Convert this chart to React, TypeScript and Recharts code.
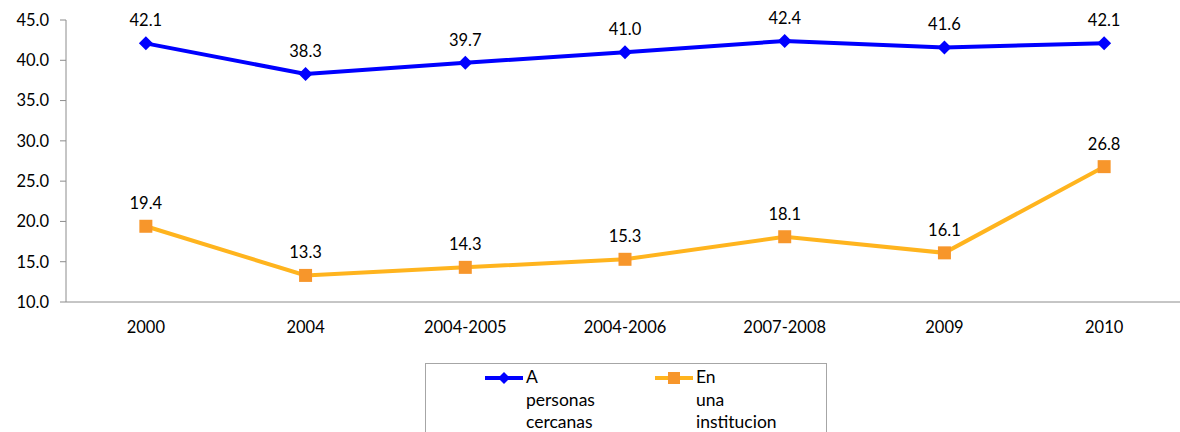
import { LineChart, Line, XAxis, YAxis, Legend, LabelList } from "recharts"

const periods = ["2000", "2004", "2004-2005", "2004-2006", "2007-2008", "2009", "2010"]
const personasCercanas = [42.1, 38.3, 39.7, 41.0, 42.4, 41.6, 42.1]
const enInstitucion = [19.4, 13.3, 14.3, 15.3, 18.1, 16.1, 26.8]
const yTicks = [10, 15, 20, 25, 30, 35, 40, 45]
const bandEdges = [0, 1, 2, 3, 4, 5, 6, 7]

const SERIES_A = "A personas cercanas"
const SERIES_B = "En una institucion"
const BLUE = "#0000FF"
const ORANGE_LINE = "#FFB41E"
const ORANGE_MARK = "#F7962B"
const AXIS_GRAY = "#8C8C8C"
const FONT = "Lato, 'Open Sans', sans-serif"
const TEXT_SIZE = 16.5

const chartData = periods.map((p, i) => ({
  name: p,
  slot: i + 0.5,
  a: personasCercanas[i],
  b: enInstitucion[i],
}))

function Diamond(props: any) {
  const { cx, cy, index } = props
  if (cx == null || cy == null) return null
  const r = 7
  return (
    <polygon
      key={`d-${index}`}
      points={`${cx},${cy - r} ${cx + r},${cy} ${cx},${cy + r} ${cx - r},${cy}`}
      fill={BLUE}
    />
  )
}

function Square(props: any) {
  const { cx, cy, index } = props
  if (cx == null || cy == null) return null
  const s = 13
  return (
    <rect
      key={`s-${index}`}
      x={cx - s / 2}
      y={cy - s / 2}
      width={s}
      height={s}
      fill={ORANGE_MARK}
    />
  )
}

function LegendIcon({ kind }: { kind: "diamond" | "square" }) {
  return (
    <svg width={38} height={14} style={{ display: "block" }}>
      <line
        x1={0}
        y1={7}
        x2={38}
        y2={7}
        stroke={kind === "diamond" ? BLUE : ORANGE_LINE}
        strokeWidth={4}
      />
      {kind === "diamond" ? (
        <polygon points="19,1 25,7 19,13 13,7" fill={BLUE} />
      ) : (
        <rect x={13} y={1} width={12} height={12} fill={ORANGE_MARK} />
      )}
    </svg>
  )
}

function BoxLegend() {
  const items = [
    { name: SERIES_A, kind: "diamond" as const, left: 59 },
    { name: SERIES_B, kind: "square" as const, left: 229 },
  ]
  return (
    <div
      style={{
        marginLeft: 425,
        marginTop: 31,
        width: 402,
        height: 90,
        border: "1px solid #A6A6A6",
        position: "relative",
        fontFamily: FONT,
        fontSize: 17.5,
        color: "#000",
        boxSizing: "border-box",
      }}
    >
      {items.map((it) => (
        <div
          key={it.name}
          style={{ position: "absolute", left: it.left, top: 2, display: "flex" }}
        >
          <div style={{ marginTop: 5 }}>
            <LegendIcon kind={it.kind} />
          </div>
          <div style={{ marginLeft: 3, lineHeight: "22.5px" }}>
            {it.name.split(" ").map((w) => (
              <div key={w}>{w}</div>
            ))}
          </div>
        </div>
      ))}
    </div>
  )
}

export default function App() {
  return (
    <div
      style={{
        position: "absolute",
        left: 0,
        top: 0,
        width: 1180,
        height: 432,
        overflow: "hidden",
        background: "#fff",
      }}
    >
      <LineChart
        width={1184}
        height={432}
        data={chartData}
        margin={{ top: 20, right: 0, left: 0, bottom: 0 }}
      >
        {/* band boundaries: axis line + tick marks between categories */}
        <XAxis
          dataKey="slot"
          type="number"
          domain={[0, 7]}
          ticks={bandEdges}
          allowDataOverflow
          tick={false}
          height={1}
          tickSize={6}
          axisLine={{ stroke: AXIS_GRAY }}
          tickLine={{ stroke: AXIS_GRAY }}
        />
        <XAxis
          xAxisId="cats"
          dataKey="name"
          scale="band"
          height={29}
          axisLine={false}
          tickLine={false}
          tickSize={0}
          tickMargin={18}
          interval={0}
          tick={{ fontSize: TEXT_SIZE, fill: "#000", fontFamily: FONT }}
        />
        <YAxis
          width={66}
          domain={[10, 45]}
          ticks={yTicks}
          interval={0}
          tickFormatter={(v: number) => v.toFixed(1)}
          tickSize={6}
          tickMargin={11}
          axisLine={{ stroke: AXIS_GRAY }}
          tickLine={{ stroke: AXIS_GRAY }}
          tick={{ fontSize: TEXT_SIZE, fill: "#000", fontFamily: FONT }}
        />
        <Legend verticalAlign="bottom" height={100} wrapperStyle={{ left: 0 }} content={() => <BoxLegend />} />
        <Line
          xAxisId="cats"
          name={SERIES_A}
          dataKey="a"
          stroke={BLUE}
          strokeWidth={4}
          dot={Diamond}
          activeDot={false}
          isAnimationActive={false}
        >
          <LabelList
            dataKey="a"
            position="top"
            offset={17}
            formatter={(v: any) => Number(v).toFixed(1)}
            style={{ fontSize: TEXT_SIZE, fill: "#000", fontFamily: FONT }}
          />
        </Line>
        <Line
          xAxisId="cats"
          name={SERIES_B}
          dataKey="b"
          stroke={ORANGE_LINE}
          strokeWidth={4}
          dot={Square}
          activeDot={false}
          isAnimationActive={false}
        >
          <LabelList
            dataKey="b"
            position="top"
            offset={17}
            formatter={(v: any) => Number(v).toFixed(1)}
            style={{ fontSize: TEXT_SIZE, fill: "#000", fontFamily: FONT }}
          />
        </Line>
      </LineChart>
    </div>
  )
}
